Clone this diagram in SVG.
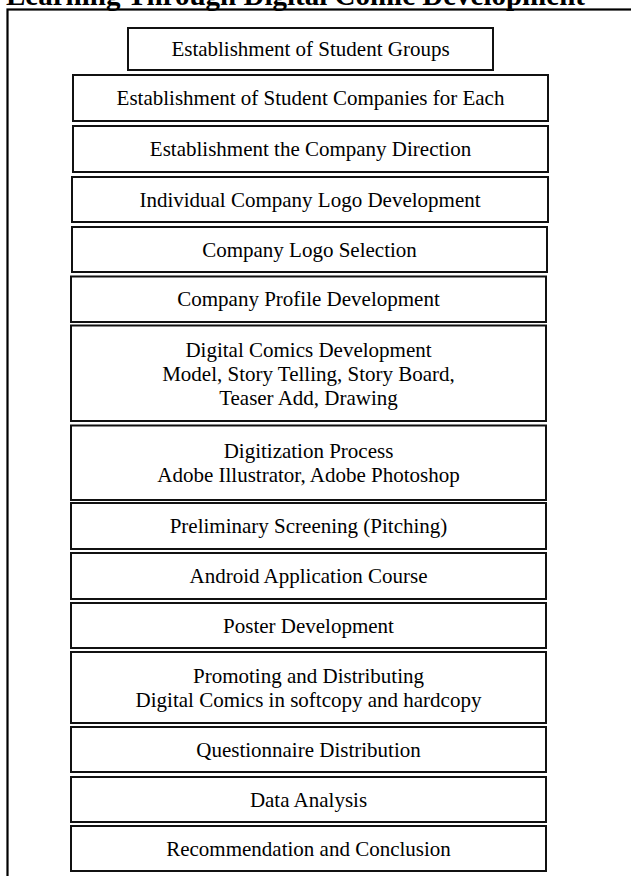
<svg xmlns="http://www.w3.org/2000/svg" width="631" height="876" viewBox="0 0 631 876">
<style>
.box{fill:#fff;stroke:#111;stroke-width:2}
.t{font-family:"Liberation Serif","Times New Roman",serif;font-size:21px;fill:#000;text-anchor:middle}
.title{font-family:"Liberation Serif","Times New Roman",serif;font-size:29px;font-weight:bold;fill:#000}
</style>
<rect width="631" height="876" fill="#fff"/>
<text class="title" x="6" y="5">Learning Through Digital Comic Development</text>
<rect x="7.5" y="9.5" width="700" height="900" fill="none" stroke="#000" stroke-width="2.2"/>
<g id="connectors"></g>
<g id="n1"><rect class="box" x="128" y="28" width="365" height="42"/><text class="t" x="310.5" y="56">Establishment of Student Groups</text></g>
<g id="n2"><rect class="box" x="73" y="75" width="475" height="46"/><text class="t" x="310.5" y="105">Establishment of Student Companies for Each</text></g>
<g id="n3"><rect class="box" x="73" y="126" width="475" height="46"/><text class="t" x="310.5" y="156">Establishment the Company Direction</text></g>
<g id="n4"><rect class="box" x="72" y="177" width="476" height="45"/><text class="t" x="310" y="206.5">Individual Company Logo Development</text></g>
<g id="n5"><rect class="box" x="72" y="227" width="475" height="45"/><text class="t" x="309.5" y="256.5">Company Logo Selection</text></g>
<g id="n6"><rect class="box" x="71" y="276.5" width="475" height="45.5"/><text class="t" x="308.5" y="306">Company Profile Development</text></g>
<g id="n7"><rect class="box" x="71" y="325.5" width="475" height="95.5"/><text class="t" x="308.5" y="356.5">Digital Comics Development</text><text class="t" x="308.5" y="380.5">Model, Story Telling, Story Board,</text><text class="t" x="308.5" y="404.5">Teaser Add, Drawing</text></g>
<g id="n8"><rect class="box" x="71" y="425.5" width="475" height="74.5"/><text class="t" x="308.5" y="458">Digitization Process</text><text class="t" x="308.5" y="482">Adobe Illustrator, Adobe Photoshop</text></g>
<g id="n9"><rect class="box" x="71" y="503" width="475" height="46"/><text class="t" x="308.5" y="533">Preliminary Screening (Pitching)</text></g>
<g id="n10"><rect class="box" x="71" y="553" width="475" height="46"/><text class="t" x="308.5" y="583">Android Application Course</text></g>
<g id="n11"><rect class="box" x="71" y="603" width="475" height="45"/><text class="t" x="308.5" y="632.5">Poster Development</text></g>
<g id="n12"><rect class="box" x="71" y="652" width="475" height="71"/><text class="t" x="308.5" y="682.5">Promoting and Distributing</text><text class="t" x="308.5" y="706.5">Digital Comics in softcopy and hardcopy</text></g>
<g id="n13"><rect class="box" x="71" y="727" width="475" height="45"/><text class="t" x="308.5" y="756.5">Questionnaire Distribution</text></g>
<g id="n14"><rect class="box" x="71" y="777" width="475" height="45"/><text class="t" x="308.5" y="806.5">Data Analysis</text></g>
<g id="n15"><rect class="box" x="71" y="826" width="475" height="45"/><text class="t" x="308.5" y="855.5">Recommendation and Conclusion</text></g>
</svg>
